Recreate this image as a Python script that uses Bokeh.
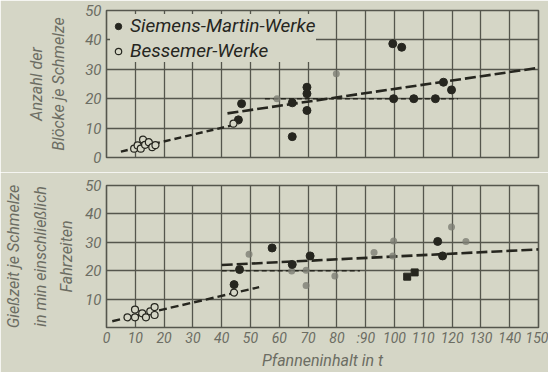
from bokeh.plotting import figure
from bokeh.layouts import column
from bokeh.models import ColumnDataSource, FixedTicker, Range1d
from bokeh.embed import file_html
from bokeh.resources import INLINE

# ---------------- data ----------------
x_ticks = [0, 10, 20, 30, 40, 50, 60, 70, 80, 90, 100, 110, 120, 130, 140, 150]
x_tick_labels = ["0", "10", "20", "30", "40", "50", "60", "70", "80", ":90", "100",
                 "110", "120", "130", "140", "150"]
y_ticks = [0, 10, 20, 30, 40, 50]

# top panel: Anzahl der Blöcke je Schmelze
top_sm_x = [46.9, 45.8, 64.5, 69.6, 69.6, 69.6, 64.5, 99.4, 102.5, 117.0, 119.8, 99.7, 106.7, 114.2]
top_sm_y = [18.3, 12.8, 18.6, 23.9, 21.7, 16.0, 7.1, 38.7, 37.5, 25.6, 23.0, 20.0, 20.0, 20.0]
top_bes_x = [9.6, 10.8, 11.9, 12.7, 13.4, 14.7, 15.9, 17.0, 44.1]
top_bes_y = [3.0, 4.1, 3.0, 6.1, 4.3, 5.2, 3.5, 4.2, 11.5]
top_grey_x = [59.2, 79.8]
top_grey_y = [20.0, 28.5]
top_bes_line_x = [5, 46]
top_bes_line_y = [2.0, 11.5]
top_sm_line_x = [42, 150]
top_sm_line_y = [15.0, 30.5]
top_mean_x = [55, 122]
top_mean_y = [20, 20]

# bottom panel: Gießzeit je Schmelze in min
bot_sm_x = [57.5, 46.2, 44.3, 64.5, 70.7, 115.0, 116.7]
bot_sm_y = [28.0, 20.4, 15.1, 22.2, 25.2, 30.3, 25.2]
bot_sq_x = [104.4, 107.0]
bot_sq_y = [17.9, 19.4]
bot_bes_x = [7.3, 9.9, 9.9, 12.4, 13.7, 15.2, 16.7, 16.7, 44.3]
bot_bes_y = [3.6, 6.3, 3.6, 5.0, 3.6, 5.7, 7.2, 4.4, 12.3]
bot_grey_x = [49.5, 64.3, 69.3, 69.3, 79.3, 92.9, 99.7, 99.4, 119.8, 124.8]
bot_grey_y = [25.8, 19.9, 14.8, 20.2, 18.1, 26.4, 30.5, 25.2, 35.4, 30.3]
bot_bes_line_x = [2, 53]
bot_bes_line_y = [2.2, 14.2]
bot_sm_line_x = [40, 150]
bot_sm_line_y = [22.0, 27.5]
bot_mean_x = [40, 88]
bot_mean_y = [20, 20]

# ---------------- style ----------------
BG = "#d5d6c6"
GRID = "#55564d"
INK = "#26261f"
TXT = "#6c6d63"
FONT = "Roboto"
W = 548


def base(height, top, bottom, ylabel, lstand, lheight):
    p = figure(width=W, height=height, x_range=Range1d(0, 150), y_range=Range1d(0, 50),
               output_backend="svg", toolbar_location=None,
               min_border_left=97, min_border_right=10,
               min_border_top=top, min_border_bottom=bottom,
               background_fill_color=BG, border_fill_color=BG)
    p.outline_line_color = GRID
    p.outline_line_width = 1.6
    for g in (p.xgrid, p.ygrid):
        g.grid_line_color = GRID
        g.grid_line_width = 1.3
    p.xgrid.ticker = FixedTicker(ticks=x_ticks)
    p.ygrid.ticker = FixedTicker(ticks=y_ticks)
    ax = p.yaxis[0]
    ax.ticker = FixedTicker(ticks=y_ticks)
    ax.axis_line_color = None
    ax.major_tick_line_color = None
    ax.minor_tick_line_color = None
    ax.major_tick_out = 0
    ax.major_tick_in = 0
    ax.minor_tick_out = 0
    ax.major_label_text_font = FONT
    ax.major_label_text_font_style = "italic"
    ax.major_label_text_font_size = "15px"
    ax.major_label_text_color = TXT
    ax.major_label_standoff = 5
    ax.axis_label = ylabel
    ax.axis_label_text_font = FONT
    ax.axis_label_text_font_style = "italic"
    ax.axis_label_text_font_size = "16px"
    ax.axis_label_text_color = TXT
    ax.axis_label_text_line_height = lheight
    ax.axis_label_standoff = lstand
    return p


def draw_line(p, xs, ys, dash, width):
    p.line(x="x", y="y", source=ColumnDataSource(dict(x=xs, y=ys)),
           line_color=INK, line_width=width, line_dash=dash)


# ---------------- top panel ----------------
top = base(172, 10, 15, "Anzahl der\nBlöcke je Schmelze", 14, 1.15)
top.xaxis.visible = False

draw_line(top, top_mean_x, top_mean_y, "5 3", 1.6)
draw_line(top, top_bes_line_x, top_bes_line_y, "7 4", 2.4)
draw_line(top, top_sm_line_x, top_sm_line_y, "11 4", 2.6)
top.scatter(x="x", y="y", source=ColumnDataSource(dict(x=top_grey_x, y=top_grey_y)),
            size=7, fill_color="#7d7e74", line_color=None, fill_alpha=0.8)
top.scatter(x="x", y="y", source=ColumnDataSource(dict(x=top_sm_x, y=top_sm_y)),
            size=8, fill_color=INK, line_color=INK, legend_label="Siemens-Martin-Werke")
top.scatter(x="x", y="y", source=ColumnDataSource(dict(x=top_bes_x, y=top_bes_y)),
            size=7, fill_color=BG, line_color=INK, line_width=1.2, legend_label="Bessemer-Werke")

lg = top.legend[0]
lg.location = "top_left"
lg.background_fill_color = BG
lg.background_fill_alpha = 1.0
lg.border_line_color = None
lg.label_text_font = FONT
lg.label_text_font_style = "italic"
lg.label_text_font_size = "19px"
lg.label_text_color = INK
lg.glyph_width = 16
lg.glyph_height = 20
lg.label_standoff = 4
lg.label_height = 20
lg.spacing = 2
lg.padding = 4
lg.margin = 4

# ---------------- bottom panel ----------------
bot = base(200, 13, 39, "Gießzeit je Schmelze\nin min einschließlich\nFahrzeiten", 6, 1.4)
bot.yaxis[0].major_label_overrides = {0: ""}
xa = bot.xaxis[0]
xa.ticker = FixedTicker(ticks=x_ticks)
xa.major_label_overrides = {t: s for t, s in zip(x_ticks, x_tick_labels)}
xa.axis_line_color = None
xa.major_tick_line_color = None
xa.minor_tick_line_color = None
xa.major_tick_out = 0
xa.major_tick_in = 0
xa.minor_tick_out = 0
xa.major_label_text_font = FONT
xa.major_label_text_font_style = "italic"
xa.major_label_text_font_size = "14px"
xa.major_label_text_color = TXT
xa.major_label_text_align = "right"
xa.major_label_text_line_height = 1.0
xa.major_label_standoff = 2
xa.axis_label = "Pfanneninhalt in t"
xa.axis_label_text_font = FONT
xa.axis_label_text_font_style = "italic"
xa.axis_label_text_font_size = "16px"
xa.axis_label_text_color = TXT
xa.axis_label_text_line_height = 1.0
xa.axis_label_standoff = 2

draw_line(bot, bot_mean_x, bot_mean_y, "5 3", 1.6)
draw_line(bot, bot_bes_line_x, bot_bes_line_y, "8 4", 2.4)
draw_line(bot, bot_sm_line_x, bot_sm_line_y, "11 4", 2.6)
bot.scatter(x="x", y="y", source=ColumnDataSource(dict(x=bot_grey_x, y=bot_grey_y)),
            size=7, fill_color="#7d7e74", line_color=None, fill_alpha=0.8)
bot.scatter(x="x", y="y", source=ColumnDataSource(dict(x=bot_sm_x, y=bot_sm_y)),
            size=8, fill_color=INK, line_color=INK)
bot.scatter(x="x", y="y", source=ColumnDataSource(dict(x=bot_sq_x, y=bot_sq_y)),
            marker="square", size=7, fill_color=INK, line_color=INK)
bot.scatter(x="x", y="y", source=ColumnDataSource(dict(x=bot_bes_x, y=bot_bes_y)),
            size=7, fill_color=BG, line_color=INK, line_width=1.2)

layout = column(top, bot, spacing=0)
open("out.html", "w").write(file_html(layout, INLINE))
